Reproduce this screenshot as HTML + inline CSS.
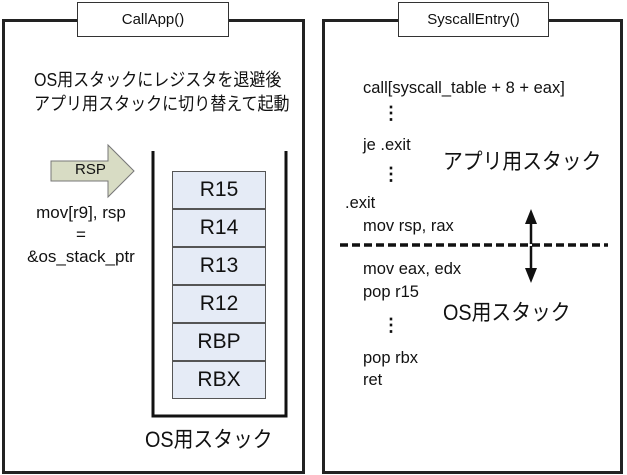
<!DOCTYPE html>
<html><head><meta charset="utf-8"><style>
body{margin:0;width:627px;height:475px;background:#fff;position:relative;overflow:hidden;font-family:"Liberation Sans","Noto Sans CJK JP",sans-serif;color:#111}
.a{position:absolute;white-space:nowrap}
.box{position:absolute;border:3px solid #222;box-sizing:border-box}
.title{position:absolute;background:#fff;border:1.5px solid #333;box-sizing:border-box;text-align:center;font-size:15px;line-height:33px}
.reg{position:absolute;left:172px;width:94px;height:38px;background:#e5ebf6;border:1px solid #555;box-sizing:border-box;text-align:center;font-size:21px;line-height:36px}
.c{font-size:16.5px}
.j{font-size:22px;line-height:28px;transform:scaleX(0.9);transform-origin:left top}
.d{font-size:18px;font-weight:bold;line-height:22px}
</style></head><body>
<div class="box" style="left:2px;top:19px;width:303px;height:455px"></div>
<div class="box" style="left:322px;top:19px;width:301px;height:455px"></div>
<div class="title" style="left:77px;top:2px;width:152px;height:35px">CallApp()</div>
<div class="title" style="left:398px;top:2px;width:151px;height:35px">SyscallEntry()</div>

<div class="a" style="left:34px;top:68px;font-size:18px;line-height:24px;transform:scaleX(0.89);transform-origin:left top">OS用スタックにレジスタを退避後<br>アプリ用スタックに切り替えて起動</div>

<svg class="a" style="left:0;top:0" width="627" height="475">
<polygon points="51,161 108,161 108,145 134,171 108,197 108,181 51,181" fill="#d8dcc4" stroke="#777" stroke-width="1"/>
<path d="M153,151 V416 H286 V151" fill="none" stroke="#111" stroke-width="3"/>
<line x1="340" y1="245" x2="608" y2="245" stroke="#111" stroke-width="3.5" stroke-dasharray="8,4"/>
<line x1="531" y1="244" x2="531" y2="222" stroke="#111" stroke-width="2.5"/>
<polygon points="531,209 525,224 537,224" fill="#111"/>
<line x1="531" y1="246" x2="531" y2="270" stroke="#111" stroke-width="2.5"/>
<polygon points="531,283 525,268 537,268" fill="#111"/>
</svg>
<div class="a" style="left:75px;top:160px;font-size:15px;line-height:20px">RSP</div>
<div class="a" style="left:21px;top:202px;font-size:17px;line-height:22px;text-align:center;width:120px">mov[r9], rsp<br>=<br>&amp;os_stack_ptr</div>

<div class="reg" style="top:171px">R15</div>
<div class="reg" style="top:209px">R14</div>
<div class="reg" style="top:247px">R13</div>
<div class="reg" style="top:285px">R12</div>
<div class="reg" style="top:323px">RBP</div>
<div class="reg" style="top:361px">RBX</div>
<div class="a j" style="left:145px;top:426px">OS用スタック</div>

<div class="a c" style="left:363px;top:79px">call[syscall_table + 8 + eax]</div>
<div class="a d" style="left:382px;top:102px">⋮</div>
<div class="a c" style="left:363px;top:136px">je .exit</div>
<div class="a d" style="left:382px;top:163px">⋮</div>
<div class="a c" style="left:345px;top:194px">.exit</div>
<div class="a c" style="left:363px;top:217px">mov rsp, rax</div>
<div class="a c" style="left:363px;top:260px">mov eax, edx</div>
<div class="a c" style="left:363px;top:283px">pop r15</div>
<div class="a d" style="left:382px;top:314px">⋮</div>
<div class="a c" style="left:363px;top:349px">pop rbx</div>
<div class="a c" style="left:363px;top:371px">ret</div>
<div class="a j" style="left:443px;top:148px">アプリ用スタック</div>
<div class="a j" style="left:443px;top:299px">OS用スタック</div>
</body></html>
